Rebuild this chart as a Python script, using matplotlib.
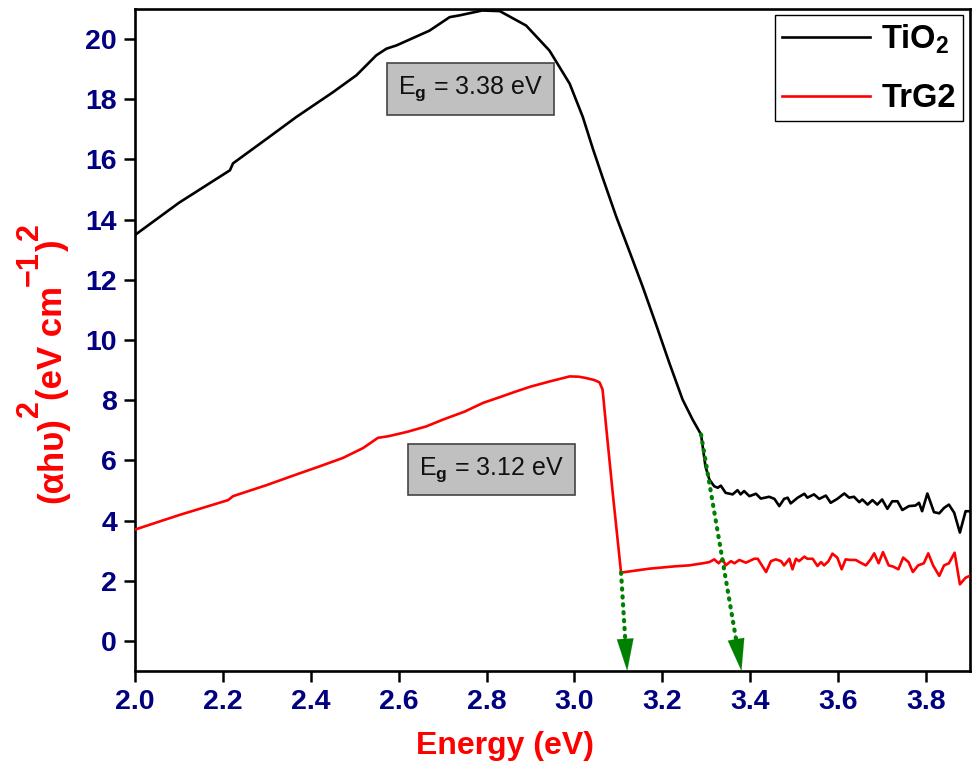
import numpy as np
import matplotlib
matplotlib.use("Agg")
import matplotlib.pyplot as plt

plt.rcParams['font.family'] = ['Liberation Sans', 'DejaVu Sans']
plt.rcParams['mathtext.fontset'] = 'custom'
plt.rcParams['mathtext.rm'] = 'Liberation Sans:bold'
plt.rcParams['mathtext.bf'] = 'Liberation Sans:bold'
plt.rcParams['mathtext.it'] = 'Liberation Sans:italic'

# ---- data ----
tio2_x = [2.00, 2.10, 2.216, 2.223, 2.30, 2.367, 2.45, 2.504, 2.549, 2.572, 2.595, 2.67,
          2.716, 2.739, 2.79, 2.83, 2.89, 2.943, 2.989, 3.019, 3.042, 3.064, 3.095, 3.125,
          3.155, 3.186, 3.216, 3.246, 3.269, 3.288, 3.298, 3.307, 3.318, 3.326, 3.333, 3.344,
          3.360, 3.371, 3.378, 3.386, 3.398, 3.413, 3.424, 3.443, 3.455, 3.466, 3.477, 3.485,
          3.492, 3.508, 3.523, 3.530, 3.545, 3.557, 3.572, 3.583, 3.598, 3.614, 3.625, 3.636,
          3.648, 3.655, 3.667, 3.678, 3.689, 3.700, 3.712, 3.723, 3.735, 3.746, 3.761, 3.776,
          3.784, 3.791, 3.803, 3.818, 3.830, 3.841, 3.852, 3.864, 3.877, 3.890, 3.902]
tio2_y = [13.49, 14.56, 15.64, 15.87, 16.69, 17.41, 18.23, 18.80, 19.46, 19.68, 19.79, 20.28,
          20.73, 20.79, 20.95, 20.93, 20.45, 19.62, 18.52, 17.41, 16.35, 15.40, 14.10, 12.95,
          11.78, 10.50, 9.23, 8.02, 7.35, 6.86, 5.80, 5.36, 5.14, 5.09, 5.16, 4.92,
          4.87, 5.01, 4.87, 4.98, 4.81, 4.89, 4.73, 4.79, 4.72, 4.48, 4.72, 4.76,
          4.57, 4.76, 4.89, 4.76, 4.87, 4.72, 4.83, 4.59, 4.72, 4.90, 4.76, 4.79,
          4.61, 4.70, 4.53, 4.68, 4.53, 4.70, 4.39, 4.64, 4.64, 4.35, 4.48, 4.50,
          4.59, 4.31, 4.90, 4.28, 4.24, 4.42, 4.53, 4.26, 3.60, 4.31, 4.31]

trg2_x = [2.00, 2.10, 2.212, 2.223, 2.30, 2.367, 2.42, 2.473, 2.519, 2.553, 2.576, 2.62,
          2.663, 2.70, 2.75, 2.792, 2.83, 2.867, 2.90, 2.943, 2.97, 2.989, 3.01, 3.025,
          3.045, 3.057, 3.064, 3.072, 3.087, 3.106, 3.17, 3.23, 3.261, 3.292, 3.307, 3.318,
          3.328, 3.337, 3.344, 3.356, 3.364, 3.375, 3.390, 3.409, 3.417, 3.436, 3.447, 3.458,
          3.470, 3.477, 3.489, 3.496, 3.504, 3.511, 3.523, 3.530, 3.542, 3.553, 3.561, 3.568,
          3.578, 3.587, 3.598, 3.608, 3.617, 3.628, 3.640, 3.651, 3.663, 3.674, 3.682, 3.692,
          3.702, 3.715, 3.725, 3.737, 3.748, 3.760, 3.770, 3.782, 3.795, 3.805, 3.816, 3.830,
          3.841, 3.852, 3.865, 3.877, 3.890, 3.902]
trg2_y = [3.70, 4.18, 4.68, 4.81, 5.18, 5.53, 5.80, 6.08, 6.41, 6.75, 6.80, 6.95,
          7.13, 7.35, 7.62, 7.91, 8.10, 8.29, 8.45, 8.62, 8.72, 8.79, 8.78, 8.74,
          8.67, 8.59, 8.35, 7.13, 4.92, 2.27, 2.40, 2.48, 2.51, 2.58, 2.62, 2.71,
          2.58, 2.73, 2.51, 2.65, 2.58, 2.69, 2.60, 2.73, 2.73, 2.29, 2.65, 2.71,
          2.65, 2.51, 2.73, 2.38, 2.73, 2.65, 2.80, 2.73, 2.73, 2.49, 2.62, 2.51,
          2.65, 2.90, 2.77, 2.38, 2.71, 2.69, 2.69, 2.60, 2.51, 2.71, 2.91, 2.58,
          2.95, 2.51, 2.47, 2.38, 2.77, 2.62, 2.29, 2.51, 2.58, 2.91, 2.51, 2.16,
          2.51, 2.58, 2.93, 1.88, 2.10, 2.18]

series_labels = ['TiO$_2$', 'TrG2']
band_gaps = [3.38, 3.12]
arrow_start_x = [3.288, 3.106]
arrow_start_y = [6.86, 2.27]
gap_labels = ['E$_{\\mathbf{g}}$ = 3.38 eV', 'E$_{\\mathbf{g}}$ = 3.12 eV']
label_pos = [(2.763, 18.34), (2.811, 5.69)]
x_ticks = [2.0, 2.2, 2.4, 2.6, 2.8, 3.0, 3.2, 3.4, 3.6, 3.8]
y_ticks = [0, 2, 4, 6, 8, 10, 12, 14, 16, 18, 20]
ylabel_parts = [('(αhυ)', False), ('2', True), ('(eV cm', False), ('\u22121', True),
                (')', False), ('2', True)]

# ---- figure ----
W, H = 974, 770
fig = plt.figure(figsize=(W / 100, H / 100), dpi=100)
ax = fig.add_axes([135/W, 1-671/H, 835/W, 662/H])

ax.plot(tio2_x, tio2_y, color='black', lw=1.9, label=series_labels[0], zorder=3)
ax.plot(trg2_x, trg2_y, color='red', lw=1.9, label=series_labels[1], zorder=3)

ax.set_xlim(2.0, 3.9)
ax.set_ylim(-1, 21)

# band-gap arrows
for sx, sy, eg in zip(arrow_start_x, arrow_start_y, band_gaps):
    f = 0.11
    ax.plot([sx, eg - (eg - sx) * f], [sy, -1 + (sy + 1) * f], color='green',
            lw=3, linestyle=(0, (0.3, 1.6)), dash_capstyle='round', zorder=4)
    ax.annotate('', xy=(eg, -1), xytext=(eg - (eg - sx) * 0.16, -1 + (sy + 1) * 0.16),
                arrowprops=dict(arrowstyle='-|>,head_length=2.3,head_width=0.6',
                                color='green', lw=0.1, shrinkA=0, shrinkB=0),
                zorder=5, annotation_clip=False)

for (tx, ty), txt in zip(label_pos, gap_labels):
    ax.text(tx, ty, txt, fontsize=18, ha='center', va='center', color='#111111',
            bbox=dict(boxstyle='square,pad=0.45', facecolor='#c0c0c0',
                      edgecolor='#444444', lw=1.2), zorder=6)

ax.set_xticks(x_ticks)
ax.set_yticks(y_ticks)
ax.set_xticklabels([f'{v:.1f}' for v in x_ticks])
ax.set_yticklabels([str(v) for v in y_ticks])
ax.tick_params(axis='both', direction='out', length=8, width=1.8, labelsize=20.5,
               labelcolor='#000080', pad=5, top=False, right=False)
for lab in ax.get_xticklabels() + ax.get_yticklabels():
    lab.set_fontweight('bold')
for sp in ax.spines.values():
    sp.set_linewidth(1.9)

ax.set_xlabel('Energy (eV)', fontsize=23, fontweight='bold', color='red')
ax.xaxis.label.set_va('center')
ax.xaxis.set_label_coords(0.443, -0.114)

leg = ax.legend(loc='upper right', bbox_to_anchor=(0.9916, 0.991), borderaxespad=0,
                fancybox=False, framealpha=1, edgecolor='black', handlelength=2.7,
                handletextpad=0.34, labelspacing=0.85, borderpad=0.22,
                prop={'weight': 'bold', 'size': 23.5})
leg.get_frame().set_linewidth(1.0)

# y label built from pieces (full-size superscripts, as in the reference)
fig.canvas.draw()
renderer = fig.canvas.get_renderer()
ypos = 1 - 503 / H
for txt, sup in ylabel_parts:
    size = 22 if sup else 25
    xb = (62 - 24) if sup else 62
    t = fig.text(xb / W, ypos, txt, rotation=90, rotation_mode='anchor', ha='left',
                 va='baseline', fontsize=size, fontweight='bold', color='red')
    bb = t.get_window_extent(renderer)
    ypos += bb.height / H

fig.savefig('out.png', dpi=100)
